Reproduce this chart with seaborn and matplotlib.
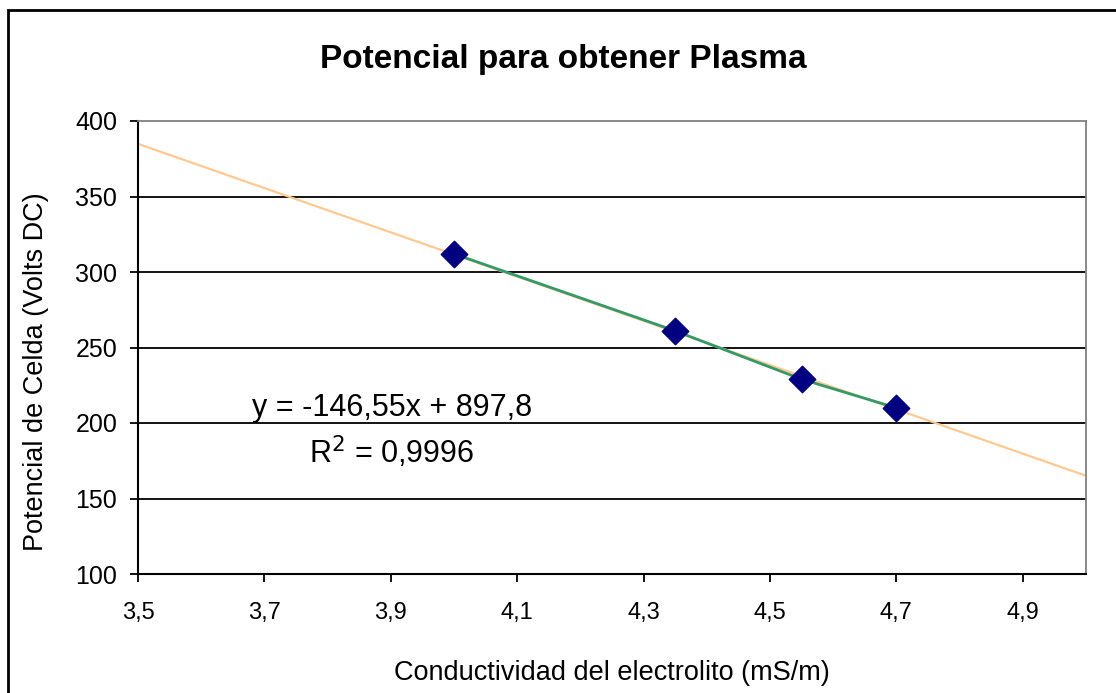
import numpy as np
import pandas as pd
import matplotlib
matplotlib.use("Agg")
import matplotlib.pyplot as plt
import seaborn as sns
from matplotlib.patches import Rectangle
from matplotlib.ticker import FuncFormatter

# Data
conductividad = [4.0, 4.35, 4.55, 4.7]
potencial = [312, 261, 229, 210]
pendiente = -146.55
intercepto = 897.8
r2 = 0.9996
x_ticks = [3.5, 3.7, 3.9, 4.1, 4.3, 4.5, 4.7, 4.9]
y_ticks = [100, 150, 200, 250, 300, 350, 400]

df = pd.DataFrame({"x": conductividad, "y": potencial})

sns.set_style("white")
plt.rcParams["font.family"] = ["Liberation Sans", "DejaVu Sans"]
plt.rcParams["text.color"] = "black"
plt.rcParams["axes.labelcolor"] = "black"
plt.rcParams["xtick.color"] = "black"
plt.rcParams["ytick.color"] = "black"

fig = plt.figure(figsize=(11.16, 6.93), dpi=100)
ax = fig.add_axes([138 / 1116, 1 - 574 / 693, (1086 - 138) / 1116, (574 - 121) / 693])

# outer chart border (runs off the right/bottom of the picture)
fig.patches.append(Rectangle((8 / 1116, -0.05), 1.1, 1 - 10 / 693 + 0.05,
                             transform=fig.transFigure, fill=False,
                             edgecolor="black", linewidth=2))

# gridlines
for yv in y_ticks[1:-1]:
    ax.axhline(yv, color="black", linewidth=1.3, zorder=1)

# trendline
xt = np.array([3.5, 5.0])
ax.plot(xt, pendiente * xt + intercepto, color="#ffc890", linewidth=1.6, zorder=2)

sns.lineplot(data=df, x="x", y="y", ax=ax, color="#339966", linewidth=2, zorder=3)
sns.scatterplot(data=df, x="x", y="y", ax=ax, marker="D", s=180,
                color="#000080", edgecolor="#000080", zorder=4)

ax.set_xlim(3.5, 5.0)
ax.set_ylim(100, 400)
ax.set_xticks(x_ticks)
ax.set_yticks(y_ticks)
ax.xaxis.set_major_formatter(FuncFormatter(lambda v, p: f"{v:.1f}".replace(".", ",")))
ax.tick_params(axis="both", direction="out", length=6, width=1.3, color="black",
               bottom=True, left=True)
ax.tick_params(axis="x", labelsize=17, pad=14)
ax.tick_params(axis="y", labelsize=18, pad=9)

for s in ["left", "bottom"]:
    ax.spines[s].set_color("black")
    ax.spines[s].set_linewidth(1.5)
for s in ["right", "top"]:
    ax.spines[s].set_color("#808080")
    ax.spines[s].set_linewidth(1.3)

ax.set_xlabel("Conductividad del electrolito (mS/m)", fontsize=19.5, labelpad=26)
ax.set_ylabel("Potencial de Celda (Volts DC)", fontsize=19.5)
ax.yaxis.label.set_va("center")
ax.yaxis.set_label_coords(-0.1076, 0.446)
fig.text(563 / 1116, 1 - 68 / 693, "Potencial para obtener Plasma", ha="center",
         va="baseline", fontsize=24, fontweight="bold")

eq = f"y = {pendiente:.2f}x + {intercepto:.1f}".replace(".", ",")
ax.text(3.902, 204.6, eq, fontsize=22, ha="center", va="baseline")
ax.text(3.902, 173.5, f"R$^2$ = {r2:.4f}".replace(".", ","), fontsize=22,
        ha="center", va="baseline")

fig.savefig("out.png", dpi=100)
